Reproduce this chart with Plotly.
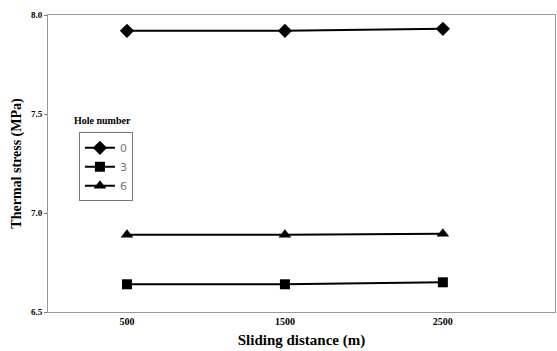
import plotly.graph_objects as go

# Sliding distance (m) and thermal stress (MPa) per hole number
distance = [500, 1500, 2500]
stress_0 = [7.92, 7.92, 7.93]
stress_3 = [6.64, 6.64, 6.65]
stress_6 = [6.89, 6.89, 6.895]
x_ticks = [500, 1500, 2500]
y_ticks = [6.5, 7.0, 7.5, 8.0]
y_labels = ["6.5", "7.0", "7.5", "8.0"]

series = [
    ("0", stress_0, "diamond", 11),
    ("3", stress_3, "square", 10),
    ("6", stress_6, "triangle-up", 11),
]

fig = go.Figure()
for name, vals, sym, size in series:
    fig.add_trace(go.Scatter(
        x=distance, y=vals, name=name, mode="lines+markers",
        line=dict(color="black", width=2),
        marker=dict(symbol=sym, size=size, color="black"),
    ))

serif = "Liberation Serif, Times New Roman, serif"
fig.update_layout(
    width=557, height=351,
    margin=dict(l=48, r=2, t=15, b=39),
    paper_bgcolor="white", plot_bgcolor="white",
    showlegend=True,
    legend=dict(
        x=0.061, y=0.605, xanchor="left", yanchor="top",
        bordercolor="#777", borderwidth=1, bgcolor="white",
        font=dict(family="DejaVu Sans, sans-serif", size=11, color="#777"),
        itemwidth=30, tracegroupgap=0,
    ),
    xaxis=dict(
        range=[0, 3210], tickvals=x_ticks,
        ticktext=[f"<b>{v}</b>" for v in x_ticks],
        showgrid=False, zeroline=False, showline=True, mirror=True,
        linecolor="#999", linewidth=1, ticks="",
        tickfont=dict(family=serif, size=10, color="black"),
        title=dict(text="<b>Sliding distance (m)</b>",
                   font=dict(family=serif, size=15, color="black"), standoff=8),
    ),
    yaxis=dict(
        range=[6.5, 8.0], tickvals=y_ticks,
        ticktext=[f"<b>{t}</b>" for t in y_labels],
        showgrid=False, zeroline=False, showline=True, mirror=True,
        linecolor="#999", linewidth=1, ticks="outside", ticklen=3, tickcolor="#777",
        tickfont=dict(family=serif, size=9, color="black"),
        title=dict(text="<b>Thermal stress (MPa)</b>",
                   font=dict(family=serif, size=14, color="black"), standoff=6),
    ),
    annotations=[dict(
        text="<b>Hole number</b>", x=0.047, y=0.62, xref="paper", yref="paper",
        xanchor="left", yanchor="bottom", showarrow=False,
        font=dict(family=serif, size=10, color="black"),
    )],
)

fig.write_html("out.html")
